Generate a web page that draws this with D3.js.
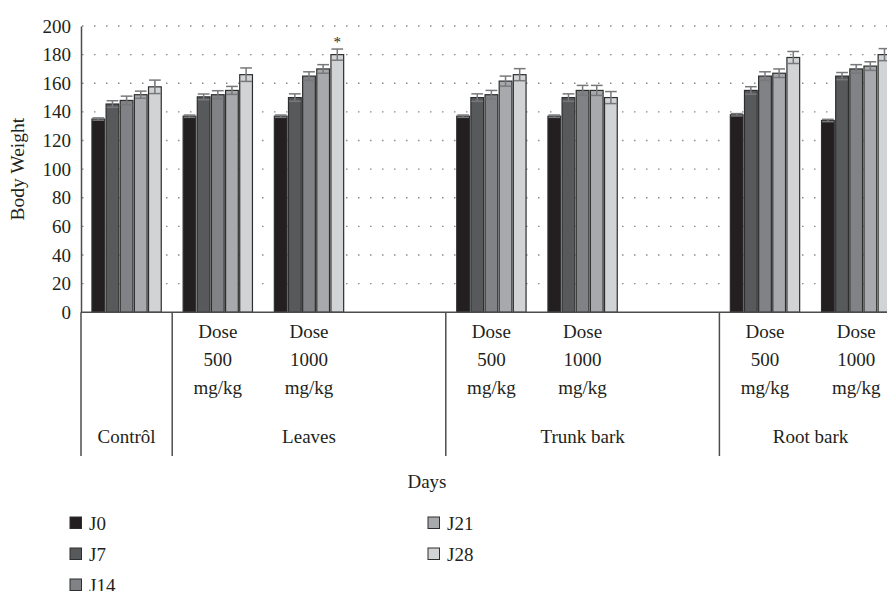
<!DOCTYPE html>
<html>
<head>
<meta charset="utf-8">
<script src="https://cdn.jsdelivr.net/npm/d3@7"></script>
<style>
  html, body { margin: 0; padding: 0; background: #fff; }
  svg { display: block; font-family: "Liberation Serif", "DejaVu Serif", serif; }
</style>
</head>
<body>
<svg id="chart" width="887" height="591"></svg>
<script>
// ---------------- data ----------------
const seriesNames = ["J0", "J7", "J14", "J21", "J28"];
const seriesColors = ["#231f20", "#58595b", "#808285", "#a7a9ac", "#d1d3d4"];

const groupNames = ["Contrôl", "Leaves", "Trunk bark", "Root bark"];
// each slot on the category axis and the group it belongs to
const slotIds = ["c", "l500", "l1000", "lx", "t500", "t1000", "tx", "r500", "r1000"];
const slotGroup = [0, 1, 1, 1, 2, 2, 2, 3, 3];
const slotLabels = [[], ["Dose", "500", "mg/kg"], ["Dose", "1000", "mg/kg"], [],
                    ["Dose", "500", "mg/kg"], ["Dose", "1000", "mg/kg"], [],
                    ["Dose", "500", "mg/kg"], ["Dose", "1000", "mg/kg"]];

const valJ0  = [135,   137,   137, null, 137,   137,   null, 138, 134];
const valJ7  = [145.5, 150.5, 150, null, 150,   150,   null, 155, 165];
const valJ14 = [148,   152,   165, null, 152,   155,   null, 165, 170];
const valJ21 = [152,   155,   170, null, 161.5, 155,   null, 167, 172];
const valJ28 = [157.5, 166,   180, null, 166,   150,   null, 178, 180];

const errJ0  = [0.8, 0.8, 0.8, null, 0.8, 0.8, null, 0.8, 0.8];
const errJ7  = [2.3, 2,   2.6, null, 2.6, 2.6, null, 2.6, 2.5];
const errJ14 = [3,   2.8, 3,   null, 3,   3.5, null, 3,   3];
const errJ21 = [2.5, 2.8, 3,   null, 3.5, 3.5, null, 3,   3];
const errJ28 = [4.7, 4.7, 3.9, null, 4.2, 4.2, null, 4.2, 4.2];

const values = [valJ0, valJ7, valJ14, valJ21, valJ28];
const errors = [errJ0, errJ7, errJ14, errJ21, errJ28];

const yTicks = [0, 20, 40, 60, 80, 100, 120, 140, 160, 180, 200];
const yLabel = "Body Weight";
const xTitle = "Days";
const starSlot = 2, starSeries = 4; // significance mark

// ---------------- layout ----------------
const svg = d3.select("#chart");
const plotLeft = 81, plotTop = 26, plotBottom = 312.3;
const slotStep = 91.2;
const plotRight = plotLeft + slotStep * slotIds.length;

const y = d3.scaleLinear().domain([0, 200]).range([plotBottom, plotTop]);

const x0 = d3.scaleBand().domain(slotIds).range([plotLeft, plotRight])
  .paddingInner(0.24).paddingOuter(0.12);
const x1 = d3.scaleBand().domain(seriesNames).range([0, x0.bandwidth()]).paddingInner(0.1);
const slotStart = id => plotLeft + slotIds.indexOf(id) * x0.step();

const textColor = "#231f20";
const axisColor = "#4d4d4f";

// grid (dotted)
svg.append("g").selectAll("line").data(yTicks.filter(t => t > 0)).join("line")
  .attr("x1", plotLeft + 1).attr("x2", plotRight)
  .attr("y1", d => y(d)).attr("y2", d => y(d))
  .attr("stroke", "#8a8a8a").attr("stroke-width", 1.4)
  .attr("stroke-dasharray", "1.5,10.5");

// y axis
const yAxis = d3.axisLeft(y).tickValues(yTicks).tickSize(0).tickPadding(10);
const gy = svg.append("g").attr("transform", `translate(${plotLeft},0)`).call(yAxis);
gy.select(".domain").attr("stroke", axisColor).attr("stroke-width", 1.5);
gy.selectAll("text").attr("font-size", 19).attr("fill", textColor)
  .attr("font-family", "Liberation Serif, serif");

svg.append("text").attr("transform", `translate(24,${(plotTop + plotBottom) / 2}) rotate(-90)`)
  .attr("text-anchor", "middle").attr("font-size", 19.5).attr("fill", textColor)
  .text(yLabel);

// bars
const gBars = svg.append("g");
slotIds.forEach((id, si) => {
  seriesNames.forEach((s, k) => {
    const v = values[k][si];
    if (v == null) return;
    const bx = x0(id) + x1(s);
    const bw = x1.bandwidth();
    gBars.append("rect")
      .attr("x", bx).attr("y", y(v)).attr("width", bw).attr("height", y(0) - y(v))
      .attr("fill", seriesColors[k]).attr("stroke", "#2e2e2e").attr("stroke-width", 1.2);
  });
});

// error bars
const gErr = svg.append("g").attr("stroke", "#77787b").attr("stroke-width", 1.5);
slotIds.forEach((id, si) => {
  seriesNames.forEach((s, k) => {
    const v = values[k][si], e = errors[k][si];
    if (v == null) return;
    const cx = x0(id) + x1(s) + x1.bandwidth() / 2;
    const hw = x1.bandwidth() / 2 - 0.5;
    gErr.append("line").attr("x1", cx).attr("x2", cx).attr("y1", y(v - e)).attr("y2", y(v + e));
    gErr.append("line").attr("x1", cx - hw).attr("x2", cx + hw).attr("y1", y(v + e)).attr("y2", y(v + e));
    gErr.append("line").attr("x1", cx - hw).attr("x2", cx + hw).attr("y1", y(v - e)).attr("y2", y(v - e));
  });
});

// significance star
{
  const id = slotIds[starSlot], s = seriesNames[starSeries];
  const v = values[starSeries][starSlot] + errors[starSeries][starSlot];
  svg.append("text").attr("x", x0(id) + x1(s) + x1.bandwidth() / 2).attr("y", y(v) - 2)
    .attr("text-anchor", "middle").attr("font-size", 15).attr("fill", textColor).text("*");
}

// x axis line
svg.append("line").attr("x1", plotLeft).attr("x2", plotRight).attr("y1", plotBottom).attr("y2", plotBottom)
  .attr("stroke", axisColor).attr("stroke-width", 1.5);

// group separators and labels
const sepBottom = 456;
const groupStarts = groupNames.map((g, gi) => slotStart(slotIds[slotGroup.indexOf(gi)]));
const groupEnds = groupNames.map((g, gi) => slotStart(slotIds[slotGroup.lastIndexOf(gi)]) + x0.step());
svg.append("g").selectAll("line").data(groupStarts).join("line")
  .attr("x1", d => d).attr("x2", d => d).attr("y1", plotBottom).attr("y2", sepBottom)
  .attr("stroke", axisColor).attr("stroke-width", 1.5);

svg.append("g").selectAll("text").data(groupNames).join("text")
  .attr("x", (d, i) => (groupStarts[i] + groupEnds[i]) / 2).attr("y", 443)
  .attr("text-anchor", "middle").attr("font-size", 19).attr("fill", textColor)
  .text(d => d);

// slot labels
slotIds.forEach((id, si) => {
  const cx = slotStart(id) + x0.step() / 2;
  slotLabels[si].forEach((line, li) => {
    svg.append("text").attr("x", cx).attr("y", 338 + li * 28)
      .attr("text-anchor", "middle").attr("font-size", 19).attr("fill", textColor).text(line);
  });
});

// x title
svg.append("text").attr("x", 427).attr("y", 488).attr("text-anchor", "middle")
  .attr("font-size", 19).attr("fill", textColor).text(xTitle);

// legend
const legendPos = [[70, 523], [70, 554], [70, 585], [428, 523], [428, 554]];
const gLeg = svg.append("g");
seriesNames.forEach((s, k) => {
  const [lx, ly] = legendPos[k];
  gLeg.append("rect").attr("x", lx).attr("y", ly - 6).attr("width", 11.5).attr("height", 11.5)
    .attr("fill", seriesColors[k]).attr("stroke", "#2e2e2e").attr("stroke-width", 1);
  gLeg.append("text").attr("x", lx + 19).attr("y", ly + 6.5).attr("font-size", 19)
    .attr("fill", textColor).text(s);
});
</script>
</body>
</html>
